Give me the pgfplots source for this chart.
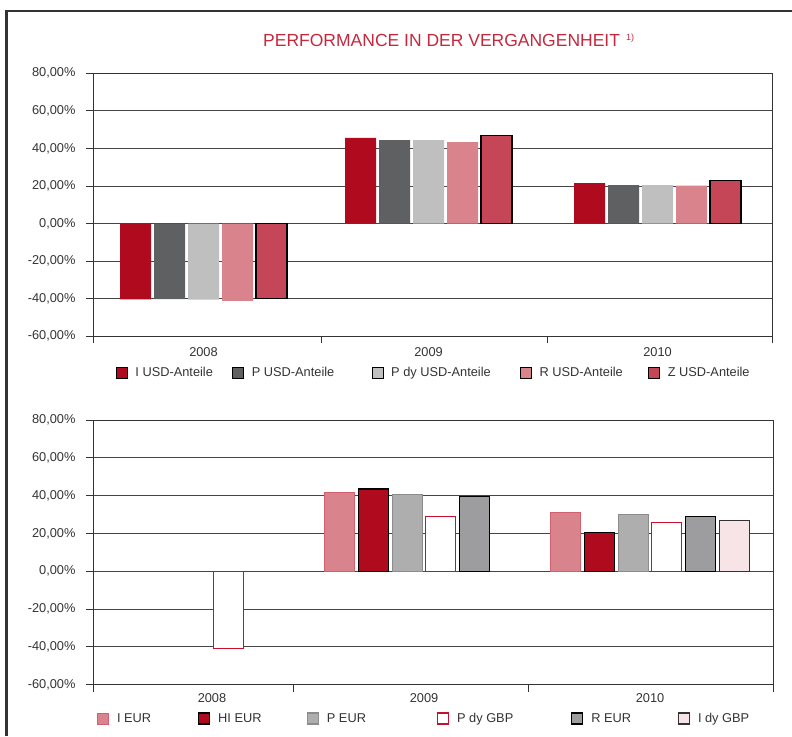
\documentclass[border=0pt]{standalone}
\usepackage{fontspec}
\setmainfont{Liberation Sans}
\usepackage{pgfplots}
\pgfplotsset{compat=1.18}
\definecolor{cDR}{HTML}{B00A1E}
\definecolor{cDG}{HTML}{5F6062}
\definecolor{cLG}{HTML}{BFBFBF}
\definecolor{cPK}{HTML}{D9838C}
\definecolor{cZ}{HTML}{C44657}
\definecolor{cPKe}{HTML}{D2606E}
\definecolor{cPE}{HTML}{AEAEAE}
\definecolor{cPEe}{HTML}{8C8C8C}
\definecolor{cRED}{HTML}{C8102E}
\definecolor{cRE}{HTML}{9D9D9F}
\definecolor{cIG}{HTML}{F6E4E6}
\definecolor{gridc}{HTML}{454545}
\definecolor{axc}{HTML}{333333}
\definecolor{txt}{HTML}{333333}
\definecolor{titlec}{HTML}{C5283D}
\pgfplotsset{
  sq legend/.style={legend image code/.code={\draw[##1] (0pt,-5.5pt) rectangle (11pt,5.5pt);}},
  base/.style={
    scale only axis,
    ymin=-60, ymax=80,
    ytick={-60,-40,-20,0,20,40,60,80},
    yticklabels={{-60,00\%},{-40,00\%},{-20,00\%},{0,00\%},{20,00\%},{40,00\%},{60,00\%},{80,00\%}},
    ymajorgrids,
    grid style={line width=0.9pt, color=gridc},
    axis line style={line width=0.9pt, color=axc},
    tick style={line width=0.9pt, color=axc},
    tick align=outside, major tick length=7pt,
    xtick pos=bottom, ytick pos=left,
    xticklabels={},
    tick label style={font=\fontsize{12.8}{14}\selectfont, text=txt},
    yticklabel style={xshift=-7pt},
    legend style={draw=none, fill=none, inner sep=0pt, outer sep=0pt,
      font=\fontsize{12.8}{14}\selectfont, text=txt,
      nodes={inner xsep=0pt, inner ysep=1pt},
      /tikz/every odd column/.append style={column sep=8pt},
      /tikz/every even column/.append style={column sep=0pt}},
  }
}
\begin{document}
\begin{tikzpicture}[x=1pt,y=1pt]
\path[use as bounding box] (0,0) rectangle (792,736);
\draw[line width=2.2pt, color=axc] (6.5,0) -- (6.5,725) -- (792,725);
\node[anchor=base west, text=titlec, font=\fontsize{17.5}{20}\selectfont, inner sep=0pt] at (263,689.3)
  {PERFORMANCE IN DER VERGANGENHEIT\hspace{6pt}\raisebox{6pt}{\fontsize{9}{10}\selectfont 1)}};

% ---------------- top chart ----------------
\begin{axis}[base,
  at={(93pt,399.7pt)}, anchor=south west,
  width=679pt, height=263pt,
  xmin=93, xmax=772,
  xtick={93,321,547,772},
  extra x ticks={203.5,428.5,657.5},
  extra x tick labels={2008,2009,2010},
  extra x tick style={major tick length=0pt, grid=none, tick label style={yshift=-8pt}},
  legend columns=5,
  legend style={at={(axis description cs:0.0339,-0.1395)}, anchor=west},
]
\addplot[ybar, bar width=31, bar shift=-68, fill=cDR, draw=none, sq legend]
  coordinates {(203.5,-40.3) (428.5,45.6) (657.5,21.6)};
\addlegendentry{\makebox[97pt][l]{I USD-Anteile}}
\addplot[ybar, bar width=31, bar shift=-34, fill=cDG, draw=none, sq legend]
  coordinates {(203.5,-40.2) (428.5,44.4) (657.5,20.5)};
\addlegendentry{\makebox[120pt][l]{P USD-Anteile}}
\addplot[ybar, bar width=31, bar shift=0, fill=cLG, draw=none, sq legend]
  coordinates {(203.5,-40.5) (428.5,44.4) (657.5,20.5)};
\addlegendentry{\makebox[129pt][l]{P dy USD-Anteile}}
\addplot[ybar, bar width=31, bar shift=34, fill=cPK, draw=none, sq legend]
  coordinates {(203.5,-41.1) (428.5,43.3) (657.5,20.2)};
\addlegendentry{\makebox[108pt][l]{R USD-Anteile}}
\addplot[ybar, bar width=31, bar shift=68, fill=cZ, draw=black, line width=1.2pt, sq legend]
  coordinates {(203.5,-39.7) (428.5,46.9) (657.5,22.8)};
\addlegendentry{Z USD-Anteile}
\end{axis}

% ---------------- bottom chart ----------------
\begin{axis}[base,
  at={(93pt,51.3pt)}, anchor=south west,
  width=680pt, height=264.7pt,
  xmin=93, xmax=773,
  xtick={93,293,528,773},
  extra x ticks={212,424,650},
  extra x tick labels={2008,2009,2010},
  extra x tick style={major tick length=0pt, grid=none, tick label style={yshift=-5pt}},
  legend columns=6,
  legend style={at={(axis description cs:0.0059,-0.1277)}, anchor=west},
]
\addplot[ybar, bar width=30, bar shift=-84.25, fill=cPK, draw=cPKe, line width=1pt, sq legend]
  coordinates {(424,41.8) (650,31.0)};
\addlegendentry{\makebox[81pt][l]{I EUR}}
\addplot[ybar, bar width=30, bar shift=-50.55, fill=cDR, draw=black, line width=1.2pt, sq legend]
  coordinates {(424,43.5) (650,20.6)};
\addlegendentry{\makebox[88.5pt][l]{HI EUR}}
\addplot[ybar, bar width=30, bar shift=-16.85, fill=cPE, draw=cPEe, line width=1.2pt, sq legend]
  coordinates {(424,40.7) (650,30.0)};
\addlegendentry{\makebox[110pt][l]{P EUR}}
\addplot[ybar, bar width=30, bar shift=16.85, fill=white, draw=cRED, line width=1.2pt, sq legend]
  coordinates {(212,-40.8) (424,29.1) (650,25.9)};
\addlegendentry{\makebox[114pt][l]{P dy GBP}}
\addplot[ybar, bar width=30, bar shift=50.55, fill=cRE, draw=black, line width=1.2pt, sq legend]
  coordinates {(424,39.5) (650,28.9)};
\addlegendentry{\makebox[86.5pt][l]{R EUR}}
\addplot[ybar, bar width=30, bar shift=84.25, fill=cIG, draw=axc, line width=1.2pt, sq legend]
  coordinates {(650,26.8)};
\addlegendentry{I dy GBP}
\end{axis}
\end{tikzpicture}
\end{document}
